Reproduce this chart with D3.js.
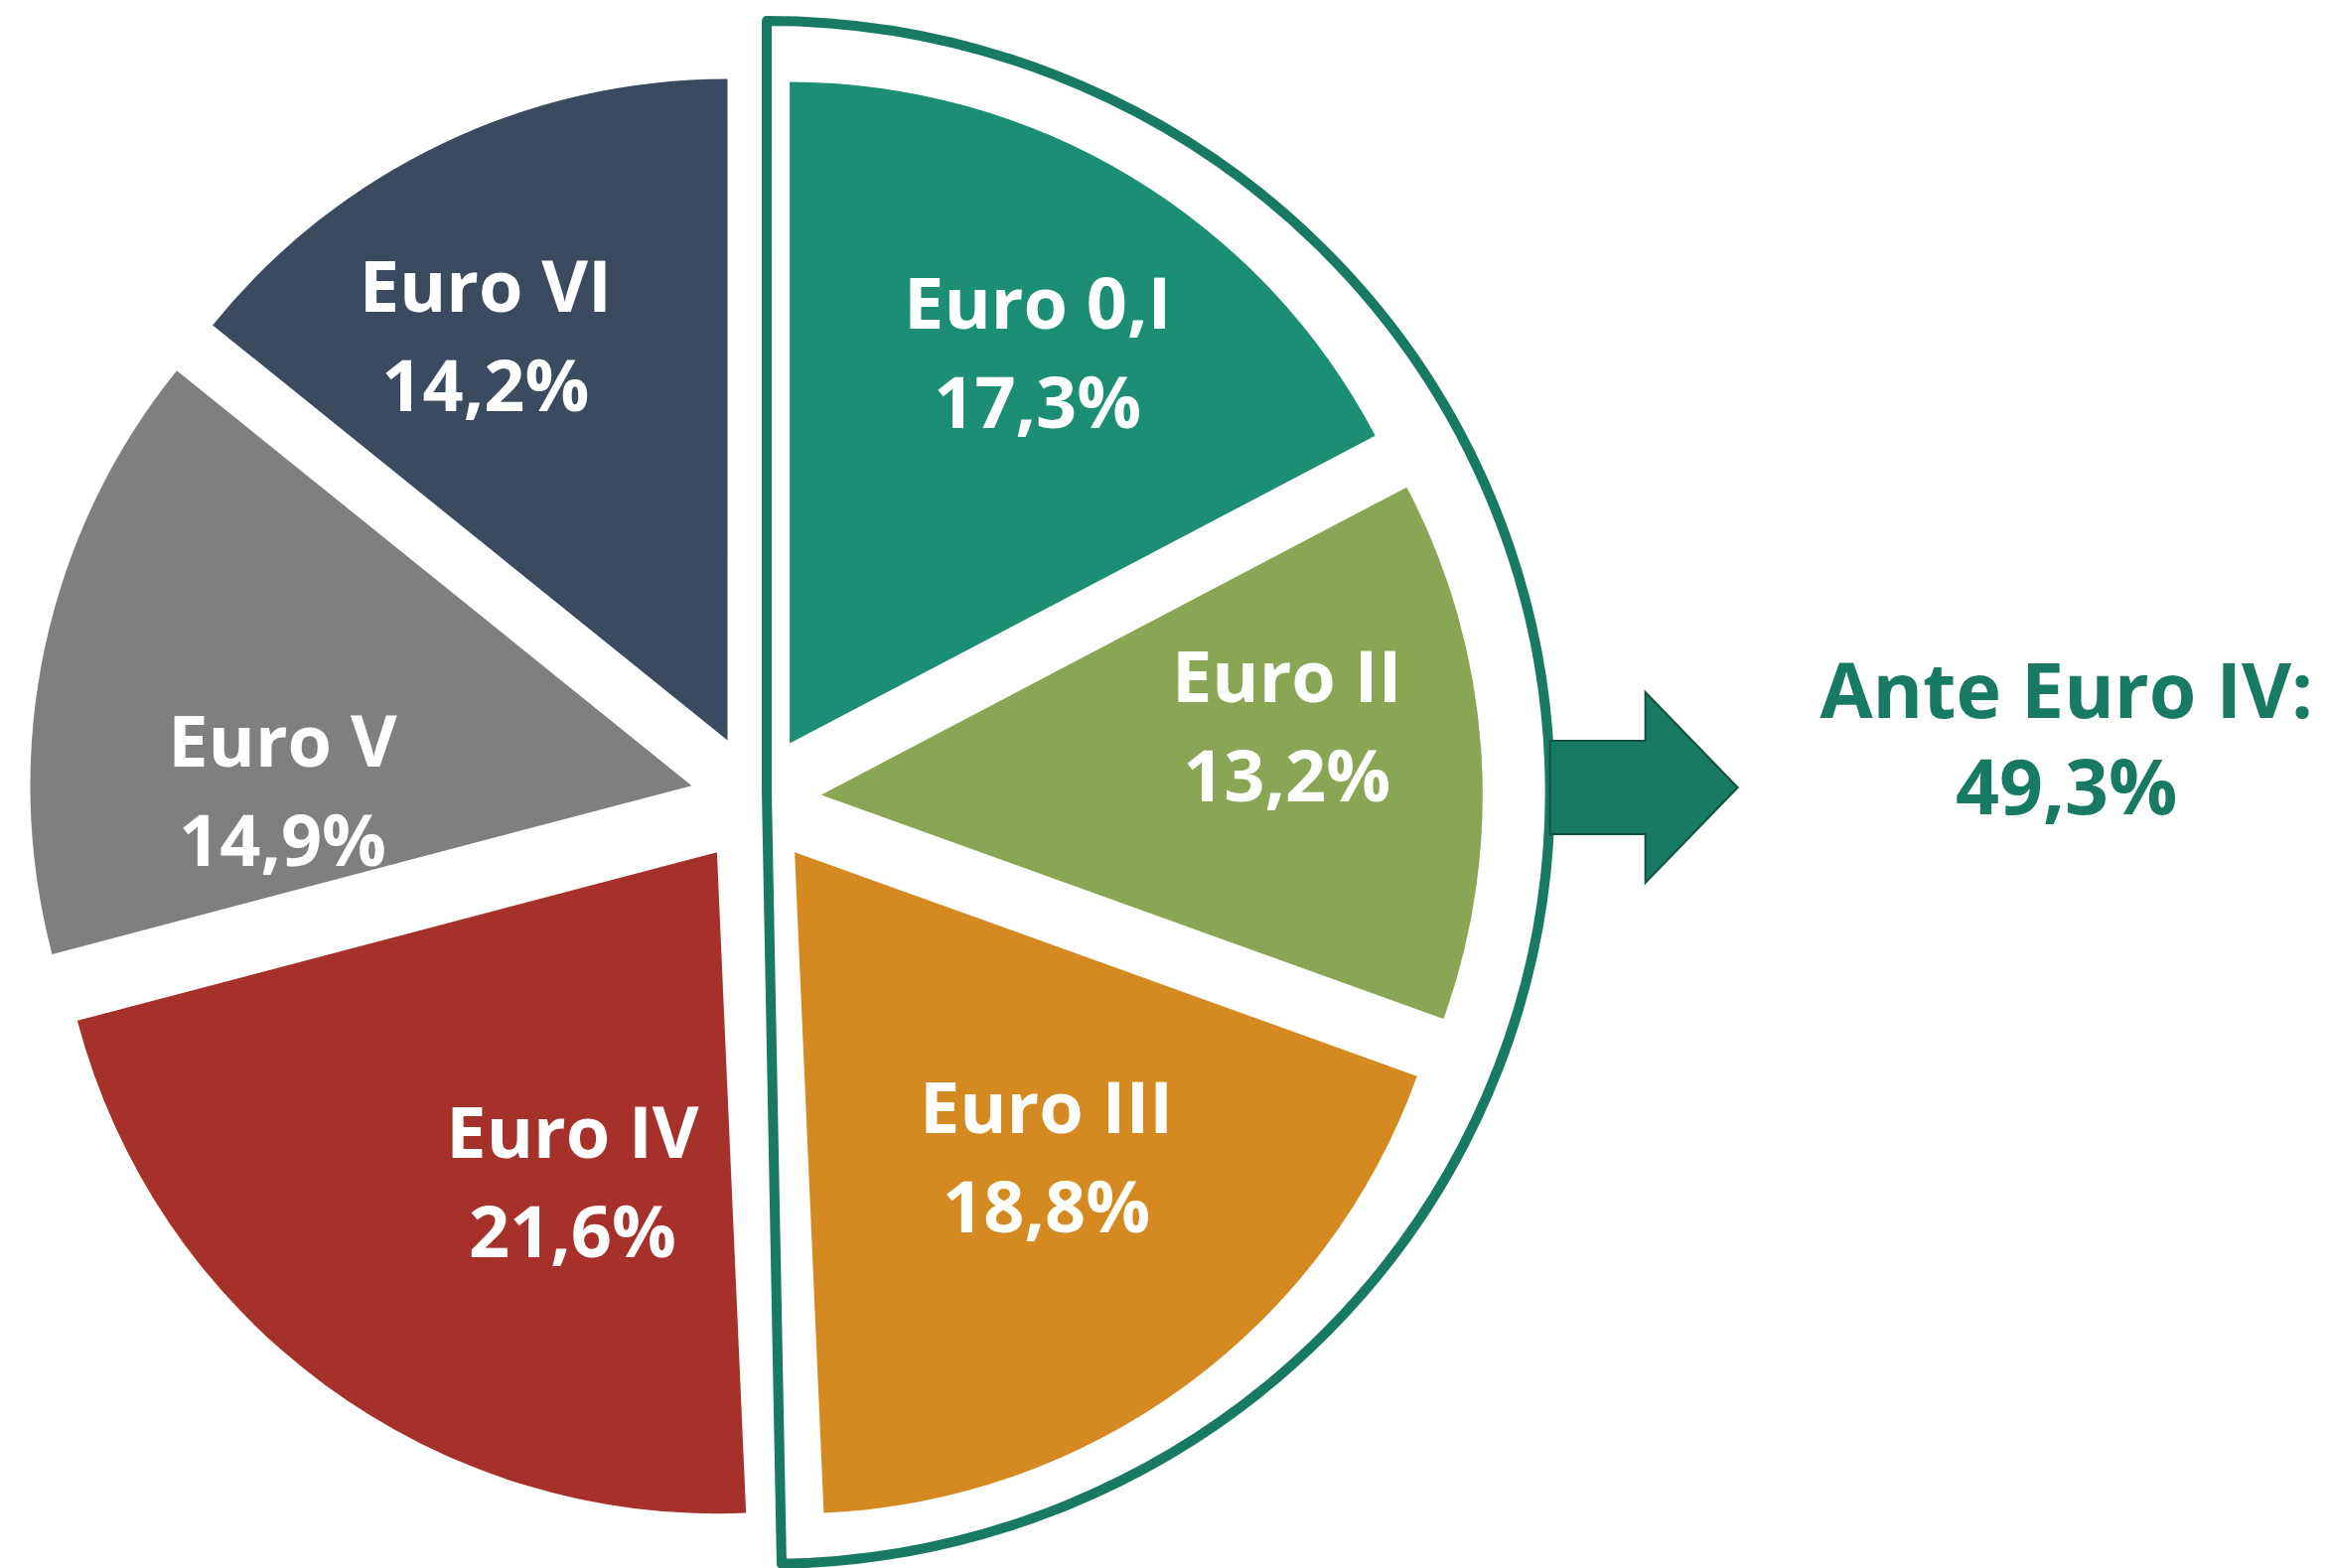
<!DOCTYPE html>
<html lang="it">
  <head>
    <meta charset="UTF-8" />
    <title>Euro classes</title>
    <script src="https://cdn.jsdelivr.net/npm/d3@7"></script>
    <style>
      body { margin: 0; background: #fff; }
      svg { display: block; }
      text { font-family: "Open Sans", "DejaVu Sans", sans-serif; font-weight: 700; }
    </style>
  </head>

  <body>
    <div id="chart"></div>

    <script>
      // data
      var categories = ["Euro 0,I", "Euro II", "Euro III", "Euro IV", "Euro V", "Euro VI"];
      var shares = [17.3, 13.2, 18.8, 21.6, 14.9, 14.2];
      var sliceColors = ["#1b8e73", "#8aa553", "#d48921", "#a6302a", "#7f7f7f", "#3b4a5e"];
      var groupMembers = ["Euro 0,I", "Euro II", "Euro III"];
      var groupTitle = "Ante Euro IV:";
      var groupShare = 49.3;

      var width = 2347, height = 1579;
      var cx = 761, cy = 805;
      var radius = 666;
      var explode = 66;
      var labelR = 500;
      var green = "#187a62";

      var fmt = function(v) { return v.toFixed(1).replace(".", ",") + "%"; };

      var data = categories.map(function(c, i) {
        return { name: c, value: shares[i], color: sliceColors[i] };
      });

      var svg = d3.select("#chart").append("svg")
        .attr("width", width)
        .attr("height", height);

      var pie = d3.pie().sort(null).value(function(d) { return d.value; });
      var arcs = pie(data);

      var arc = d3.arc().innerRadius(0).outerRadius(radius);

      // outline around the "ante Euro IV" slices
      var groupArcs = arcs.filter(function(a) { return groupMembers.indexOf(a.data.name) >= 0; });
      var groupEnd = d3.max(groupArcs, function(a) { return a.endAngle; });
      var outlineR = 777;
      var outline = d3.arc()
        .innerRadius(0)
        .outerRadius(outlineR)
        .startAngle(0)
        .endAngle(groupEnd + 0.025);

      var ox = 772, oy = 798, oScale = 1.015;
      svg.append("path")
        .attr("d", outline())
        .attr("transform", "translate(" + ox + "," + oy + ") scale(" + oScale + ",1)")
        .attr("fill", "none")
        .attr("stroke", green)
        .attr("stroke-width", 10)
        .attr("vector-effect", "non-scaling-stroke")
        .attr("stroke-linejoin", "round");

      // arrow out of the outline
      var ax = ox + outlineR * oScale, ay = 793;
      var shaftLen = 96, shaftHalf = 47, headHalf = 96, headLen = 93;
      var arrow = d3.path();
      arrow.moveTo(ax, ay - shaftHalf);
      arrow.lineTo(ax + shaftLen, ay - shaftHalf);
      arrow.lineTo(ax + shaftLen, ay - headHalf);
      arrow.lineTo(ax + shaftLen + headLen, ay);
      arrow.lineTo(ax + shaftLen, ay + headHalf);
      arrow.lineTo(ax + shaftLen, ay + shaftHalf);
      arrow.lineTo(ax, ay + shaftHalf);
      arrow.closePath();
      svg.append("path")
        .attr("d", arrow.toString())
        .attr("fill", green)
        .attr("stroke", "#11523f")
        .attr("stroke-width", 2);

      var gx = ax + shaftLen + headLen + 331;
      var gt = svg.append("text")
        .attr("text-anchor", "middle")
        .attr("fill", green)
        .style("font-size", "77px");
      gt.append("tspan").attr("x", gx).attr("y", 723).text(groupTitle);
      gt.append("tspan").attr("x", gx).attr("y", 820).text(fmt(groupShare));

      // exploded slices
      var mid = function(a) { return (a.startAngle + a.endAngle) / 2; };
      var shift = function(a) {
        var m = mid(a);
        return "translate(" + (cx + explode * Math.sin(m)) + "," + (cy - explode * Math.cos(m)) + ")";
      };

      svg.selectAll(".slice")
        .data(arcs)
        .enter()
        .append("path")
        .attr("class", "slice")
        .attr("transform", shift)
        .attr("d", arc)
        .attr("fill", function(a) { return a.data.color; });

      // hand placed label shifts, as in the picture
      var nudge = {
        "Euro 0,I": [-9, 34],
        "Euro II": [-30, -35],
        "Euro III": [-43, -96],
        "Euro IV": [151, -71],
        "Euro V": [77, 109],
        "Euro VI": [-28, 44]
      };
      var labelArc = d3.arc().innerRadius(labelR).outerRadius(labelR);

      var labels = svg.selectAll(".label")
        .data(arcs)
        .enter()
        .append("text")
        .attr("class", "label")
        .attr("transform", shift)
        .attr("text-anchor", "middle")
        .attr("fill", "#fff")
        .style("font-size", "72px");

      labels.each(function(a) {
        var c = labelArc.centroid(a);
        var n = nudge[a.data.name];
        var x = c[0] + n[0], y = c[1] + n[1];
        var t = d3.select(this);
        t.append("tspan").attr("x", x).attr("y", y - 24).text(a.data.name);
        t.append("tspan").attr("x", x).attr("y", y + 76).text(fmt(a.data.value));
      });
    </script>
  </body>
</html>
